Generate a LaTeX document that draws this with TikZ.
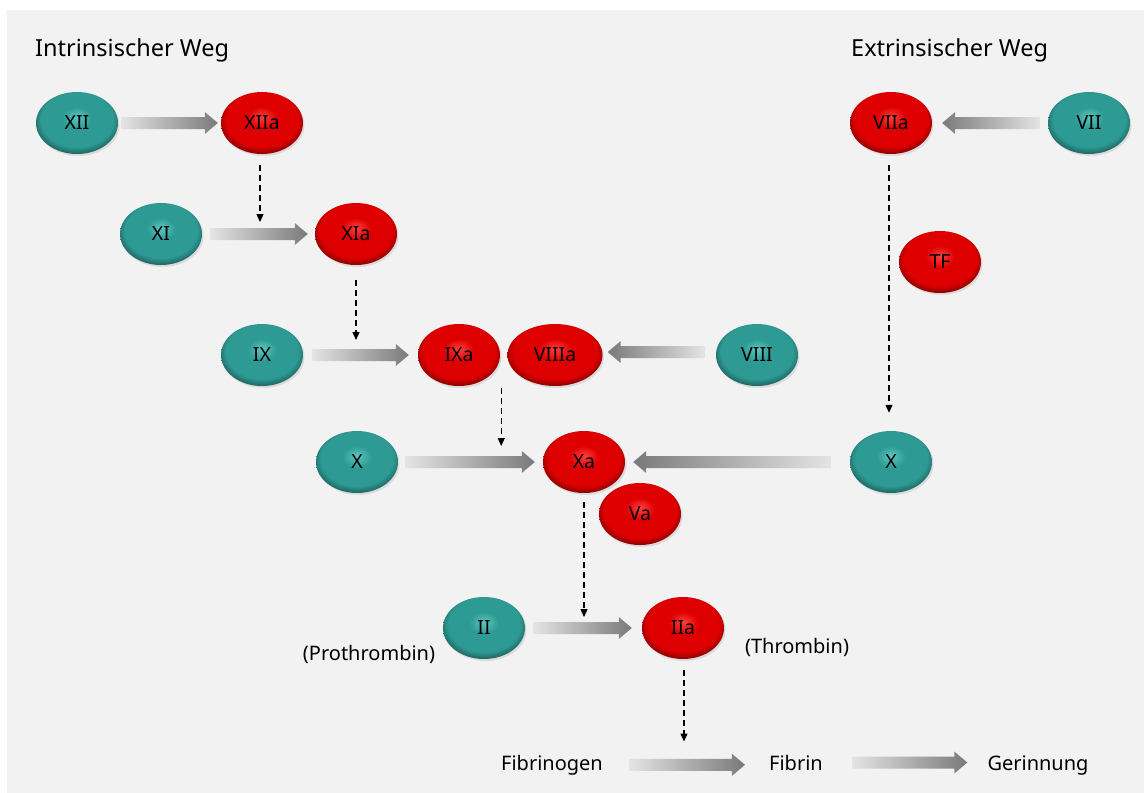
\documentclass[tikz,border=0pt]{standalone}
\usepackage{fontspec}
\setmainfont{Noto Sans}
\usetikzlibrary{positioning,calc,arrows.meta,shapes.geometric,shadows}

\definecolor{panel}{HTML}{F2F2F2}
\definecolor{tealmid}{HTML}{2E9A94}
\definecolor{tealhi}{HTML}{5CC6C0}
\definecolor{tealdk}{HTML}{18534F}
\definecolor{redmid}{HTML}{DE0000}
\definecolor{redhi}{HTML}{FF4040}
\definecolor{reddk}{HTML}{6E0000}
\definecolor{arrlt}{HTML}{E4E4E4}
\definecolor{arrdk}{HTML}{7A7A7A}

\pgfdeclareradialshading{tealbead}{\pgfpoint{0bp}{5bp}}{color(0bp)=(tealhi); color(9bp)=(tealmid); color(22bp)=(tealmid); color(29bp)=(tealdk); color(50bp)=(tealdk)}
\pgfdeclareradialshading{redbead}{\pgfpoint{0bp}{5bp}}{color(0bp)=(redhi); color(9bp)=(redmid); color(22bp)=(redmid); color(29bp)=(reddk); color(50bp)=(reddk)}

\newcommand\fatarrow[3][left color=arrlt,right color=arrdk]{%
 \shade[#1] let \p1=#2, \p2=#3, \n1={sign(\x2-\x1)} in
  (\x1,{\y1+6pt}) -- ({\x2-(\n1)*13pt},{\y1+6pt}) -- ({\x2-(\n1)*13pt},{\y1+11pt}) -- (\x2,\y1)
  -- ({\x2-(\n1)*13pt},{\y1-11pt}) -- ({\x2-(\n1)*13pt},{\y1-6pt}) -- (\x1,{\y1-6pt}) -- cycle;}

\begin{document}
\begin{tikzpicture}[x=1pt,y=-1pt,
 factor/.style={ellipse,minimum width=82pt,minimum height=62pt,inner sep=0pt,shade,
  font=\fontsize{19.5}{22}\selectfont,drop shadow={shadow xshift=1.5pt,shadow yshift=-2pt,opacity=.2}},
 zymogen/.style={factor,shading=tealbead},
 enzyme/.style={factor,shading=redbead},
 txt/.style={inner sep=0pt,anchor=base,font=\fontsize{20}{24}\selectfont},
 head/.style={inner sep=0pt,anchor=base west,font=\fontsize{23.5}{28}\selectfont},
 dasharr/.style={line width=1.3pt,dash pattern=on 6pt off 4pt,-{Triangle[length=8pt,width=7pt]}}]
 \useasboundingbox (0,0) rectangle (1144,793);
 \fill[white] (0,0) rectangle (1144,793);
 \fill[panel] (7,10) rectangle (1144,793);

 \node[head] (intr) at (35,56) {Intrinsischer Weg};
 \node[head] (extr) at (851,56) {Extrinsischer Weg};

 \node[zymogen] (xii) at (77,123) {XII};
 \node[enzyme] (xiia) at (262,123) {XIIa};
 \node[zymogen] (xi) at (161,234) {XI};
 \node[enzyme] (xia) at (356,234) {XIa};
 \node[zymogen] (ix) at (262,355) {IX};
 \node[enzyme] (ixa) at (459,355) {IXa};
 \node[enzyme,minimum width=95pt] (viiia) at (555,355) {VIIIa};
 \node[zymogen] (viii) at (757,355) {VIII};
 \node[zymogen] (xl) at (357,462) {X};
 \node[enzyme] (xa) at (584,462) {Xa};
 \node[enzyme] (va) at (640,514) {Va};
 \node[zymogen] (xr) at (891,462) {X};
 \node[enzyme] (viia) at (891,123) {VIIa};
 \node[zymogen] (vii) at (1089,123) {VII};
 \node[enzyme] (tf) at (940,262) {TF};
 \node[zymogen] (ii) at (484,628) {II};
 \node[enzyme] (iia) at (683,628) {IIa};

 \node[txt] (proth) at (369,660) {(Prothrombin)};
 \node[txt] (thromb) at (797,653) {(Thrombin)};
 \node[txt] (fbg) at (552,770) {Fibrinogen};
 \node[txt] (fib) at (796,770) {Fibrin};
 \node[txt] (ger) at (1038,770) {Gerinnung};
 \coordinate (ixv) at ($(ixa.south)!.44!(viiia.south)$);

 \fatarrow{($(xii.east)+(3,0)$)}{($(xiia.west)+(-3,0)$)}
 \fatarrow{($(xi.east)+(8,0)$)}{($(xia.west)+(-7,0)$)}
 \fatarrow{($(ix.east)+(9,0)$)}{($(ixa.west)+(-9,0)$)}
 \fatarrow[left color=arrdk,right color=arrlt]{($(viii.west)+(-11,-3)$)}{($(viiia.east)+(5,-3)$)}
 \fatarrow{($(xl.east)+(7,0)$)}{($(xa.west)+(-8,0)$)}
 \fatarrow[left color=arrdk,right color=arrlt]{($(xr.west)+(-19,0)$)}{($(xa.east)+(8,0)$)}
 \fatarrow[left color=arrdk,right color=arrlt]{($(vii.west)+(-8,0)$)}{($(viia.east)+(10,0)$)}
 \fatarrow{($(ii.east)+(8,0)$)}{($(iia.west)+(-10,0)$)}
 \fatarrow{($(fbg.east)+(26,0)$)}{($(fib.west)+(-24,0)$)}
 \fatarrow{($(fib.east)+(29,0)$)}{($(ger.west)+(-20,0)$)}

 \draw[dasharr] ($(xiia.south)+(-2,11)$) -- ($(xiia.south |- xi)+(-2,-12)$);
 \draw[dasharr] ($(xia.south)+(0,15)$) -- ($(xia.south |- ix)+(0,-15)$);
 \draw[dasharr] ($(ixv)+(0,2)$) -- ($(ixv |- xa)+(0,-16)$);
 \draw[dasharr] ($(viia.south)+(-2,11)$) -- ($(xr.north)+(-2,-18)$);
 \draw[dasharr] ($(xa.south)+(0,9)$) -- ($(xa.south |- iia)+(0,-11)$);
 \draw[dasharr] ($(iia.south)+(1,11)$) -- ($(iia.south |- fib)+(1,-21)$);
\end{tikzpicture}
\end{document}
